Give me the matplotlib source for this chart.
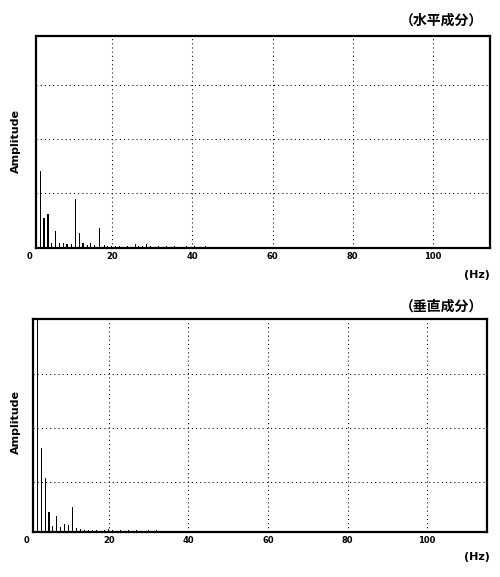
import matplotlib
matplotlib.use("Agg")
import matplotlib.pyplot as plt
import matplotlib.transforms as mtransforms

plt.rcParams['font.family'] = ['DejaVu Sans', 'Noto Sans CJK JP']

# ---- data (horizontal component) ----
freq_h = [2.0, 2.9, 3.9, 4.8, 5.8, 6.8, 7.8, 8.6, 9.6, 10.8, 11.8, 12.6, 13.6, 14.5,
          15.5, 16.7, 17.8, 18.7, 19.7, 20.6, 21.6, 22.6, 23.6, 24.6, 25.6, 26.5,
          27.5, 28.5, 29.5, 30.5, 31.4, 32.4, 33.4, 34.4, 35.4, 36.4, 37.3, 38.3,
          39.3, 40.3, 41.3, 42.2, 43.2, 45.1]
amp_h = [1.42, 0.55, 0.62, 0.09, 0.31, 0.09, 0.09, 0.07, 0.07, 0.90, 0.28, 0.09, 0.05,
         0.09, 0.05, 0.36, 0.05, 0.03, 0.04, 0.03, 0.03, 0.02, 0.03, 0.02, 0.07, 0.04,
         0.03, 0.07, 0.03, 0.02, 0.03, 0.02, 0.03, 0.02, 0.03, 0.02, 0.02, 0.03, 0.02,
         0.03, 0.02, 0.02, 0.03, 0.02]

# ---- data (vertical component) ----
freq_v = [1.1, 2.0, 3.07, 4.07, 4.9, 5.8, 6.8, 7.8, 8.85, 9.85, 10.85, 11.85, 12.85,
          13.8, 14.8, 15.8, 16.8, 17.8, 18.8, 19.8, 20.8, 21.8, 22.8, 23.8, 24.8,
          25.8, 26.8, 27.8, 28.8, 29.8, 30.8, 31.8, 32.9]
amp_v = [4.5, 4.5, 1.55, 0.99, 0.36, 0.10, 0.29, 0.085, 0.14, 0.12, 0.46, 0.07, 0.05,
         0.03, 0.03, 0.03, 0.03, 0.02, 0.03, 0.05, 0.03, 0.02, 0.04, 0.02, 0.03,
         0.02, 0.03, 0.02, 0.02, 0.03, 0.02, 0.03, 0.02]

tick_vals = [0, 20, 40, 60, 80, 100]
tick_labels = ["0", "20", "40", "60", "80", "100"]
title_h = "（水平成分）"
title_v = "（垂直成分）"
ylabel = "Amplitude"
xunit = "(Hz)"

# style lists (bar widths in points)
THIN, THICK = 0.6, 1.35
lw_h = [THIN, THICK, THICK, THIN, THIN, THIN, THIN, THICK, THIN, THIN, THIN, THICK] + [THIN] * (len(freq_h) - 12)
lw_v = [THICK, THIN, THIN, THIN, THICK] + [THIN] * (len(freq_v) - 5)

W, H = 500, 577
fig = plt.figure(figsize=(5.0, 5.77), dpi=100)

def px_axes(l, r, t, b):
    return fig.add_axes([l / W, 1 - b / H, (r - l) / W, (b - t) / H])

def setup(ax, freqs, amps, lws, xlim, ylim, grid_y, zero_x):
    ax.set_xlim(*xlim)
    ax.set_ylim(*ylim)
    ax.vlines(freqs, 0, amps, colors='black', linewidths=lws, antialiased=False, zorder=3)
    ax.set_xticks(tick_vals[1:])
    ax.set_xticklabels(tick_labels[1:], fontsize=6, fontweight='bold')
    ax.set_yticks([])
    ax.tick_params(axis='x', length=0, pad=3.2)
    for g in tick_vals[1:]:
        ax.axvline(g, color='black', lw=0.75, ls=(0, (1, 3)), zorder=1)
    for g in grid_y:
        ax.axhline(g, color='black', lw=0.75, ls=(0, (1, 3)), zorder=1)
    for s in ax.spines.values():
        s.set_linewidth(1.6)
        s.set_zorder(4)
    trans = mtransforms.blended_transform_factory(ax.transData, ax.transAxes)
    ax.text(zero_x, -0.022, tick_labels[0], transform=trans, fontsize=6, fontweight='bold',
            ha='center', va='top', clip_on=False)

ax1 = px_axes(35.7, 490, 35.7, 247.7)
setup(ax1, freq_h, amp_h, lw_h, (0.87, 114.3), (0, 3.91), [1.0, 2.0, 3.0], -0.7)

ax2 = px_axes(33.3, 487.3, 319, 531.7)
setup(ax2, freq_v, amp_v, lw_v, (1.05, 115.1), (0, 3.93), [0.91, 1.91, 2.92], -0.6)

# y labels
fig.text(16 / W, 1 - 141 / H, ylabel, rotation=90, ha='center', va='center',
         fontsize=8, fontweight='bold')
fig.text(15.5 / W, 1 - 421.6 / H, ylabel, rotation=90, ha='center', va='center',
         fontsize=8, fontweight='bold')

# titles
fig.text(483 / W, 1 - 21 / H, title_h, ha='right', va='center', fontsize=10,
         fontweight='bold', family=['Noto Sans CJK JP'])
fig.text(483 / W, 1 - 307 / H, title_v, ha='right', va='center', fontsize=10,
         fontweight='bold', family=['Noto Sans CJK JP'])

# units
fig.text(490 / W, 1 - 275.5 / H, xunit, ha='right', va='center', fontsize=8, fontweight='bold')
fig.text(490 / W, 1 - 557 / H, xunit, ha='right', va='center', fontsize=8, fontweight='bold')

fig.savefig("out.png", dpi=100)
